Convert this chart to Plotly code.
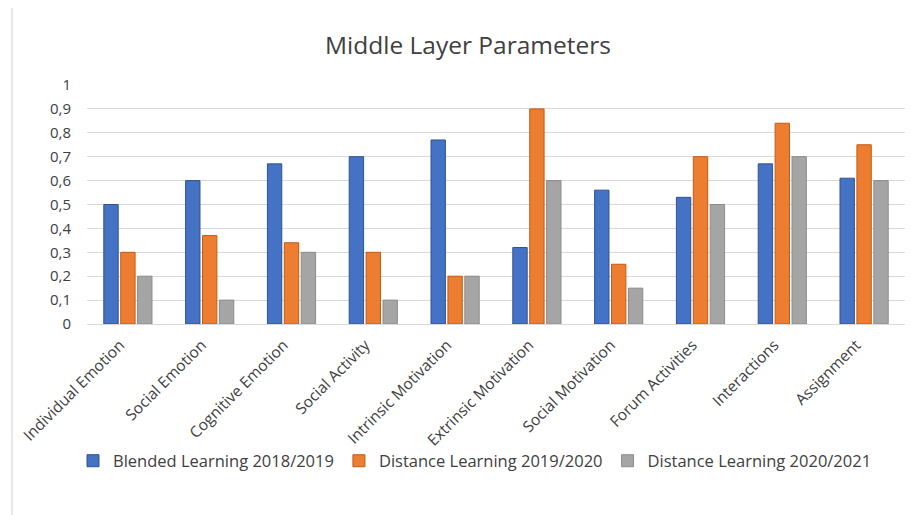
import plotly.graph_objects as go

categories = ["Individual Emotion", "Social Emotion", "Cognitive Emotion", "Social Activity",
              "Intrinsic Motivation", "Extrinsic Motivation", "Social Motivation",
              "Forum Activities", "Interactions", "Assignment"]
blended_2018 = [0.50, 0.60, 0.67, 0.70, 0.77, 0.32, 0.56, 0.53, 0.67, 0.61]
distance_2019 = [0.30, 0.37, 0.34, 0.30, 0.20, 0.90, 0.25, 0.70, 0.84, 0.75]
distance_2020 = [0.20, 0.10, 0.30, 0.10, 0.20, 0.60, 0.15, 0.50, 0.70, 0.60]
series_names = ["Blended Learning 2018/2019", "Distance Learning 2019/2020", "Distance Learning 2020/2021"]
tick_vals = [0, 0.1, 0.2, 0.3, 0.4, 0.5, 0.6, 0.7, 0.8, 0.9, 1]
tick_text = ["0", "0,1", "0,2", "0,3", "0,4", "0,5", "0,6", "0,7", "0,8", "0,9", "1"]

colors = ["#4472C4", "#ED7D31", "#A5A5A5"]
edges = ["#2F528F", "#C55A11", "#8C8C8C"]
font = "Open Sans, Liberation Sans, sans-serif"

# page body has an 8px margin; figure is sized to fill the rest of the window
OFF = 8
W, H = 917 - OFF, 515 - OFF
L, R, T, B = 87 - OFF, 12, 85 - OFF, 191
PW, PH = W - L - R, H - T - B

fig = go.Figure()
for name, vals, c, e in zip(series_names, [blended_2018, distance_2019, distance_2020], colors, edges):
    fig.add_trace(go.Bar(x=categories, y=vals, name=name,
                         marker=dict(color=c, line=dict(color=e, width=1))))

fig.update_layout(
    width=W, height=H,
    paper_bgcolor="white", plot_bgcolor="white",
    margin=dict(l=L, r=R, t=T, b=B, autoexpand=False),
    barmode="group", bargap=0.38, bargroupgap=0.15,
    title=dict(text="Middle Layer Parameters", x=(468 - OFF) / W, xanchor="center",
               y=1 - (45 - OFF) / H, yanchor="middle",
               font=dict(family=font, size=24.5, color="#404040")),
    font=dict(family=font, color="#404040"),
    legend=dict(orientation="h", xref="container", yref="container",
                x=(73 - OFF) / W, xanchor="left",
                y=1 - (461 - OFF) / H, yanchor="middle",
                font=dict(size=16.5, color="#404040"), itemwidth=30, traceorder="normal",
                bgcolor="rgba(0,0,0,0)"),
    showlegend=True,
)
fig.update_yaxes(range=[0, 1.0], tickvals=tick_vals, ticktext=tick_text, automargin=False,
                 showgrid=True, gridcolor="#D9D9D9", gridwidth=1,
                 zeroline=False, showline=False, ticks="",
                 tickfont=dict(size=15, color="#404040"), ticklabelstandoff=15)
fig.update_xaxes(tickangle=-45, showline=True, linecolor="#D9D9D9", linewidth=1, automargin=False,
                 ticks="", tickfont=dict(size=15.5, color="#404040"), ticklabelshift=-8,
                 ticklabelstandoff=5)
fig.add_shape(type="line", xref="paper", yref="paper",
              x0=(12 - OFF - L) / PW, x1=(12 - OFF - L) / PW, y0=-B / PH, y1=1 + T / PH,
              line=dict(color="#D0D0D0", width=1))
fig.write_html("out.html")
